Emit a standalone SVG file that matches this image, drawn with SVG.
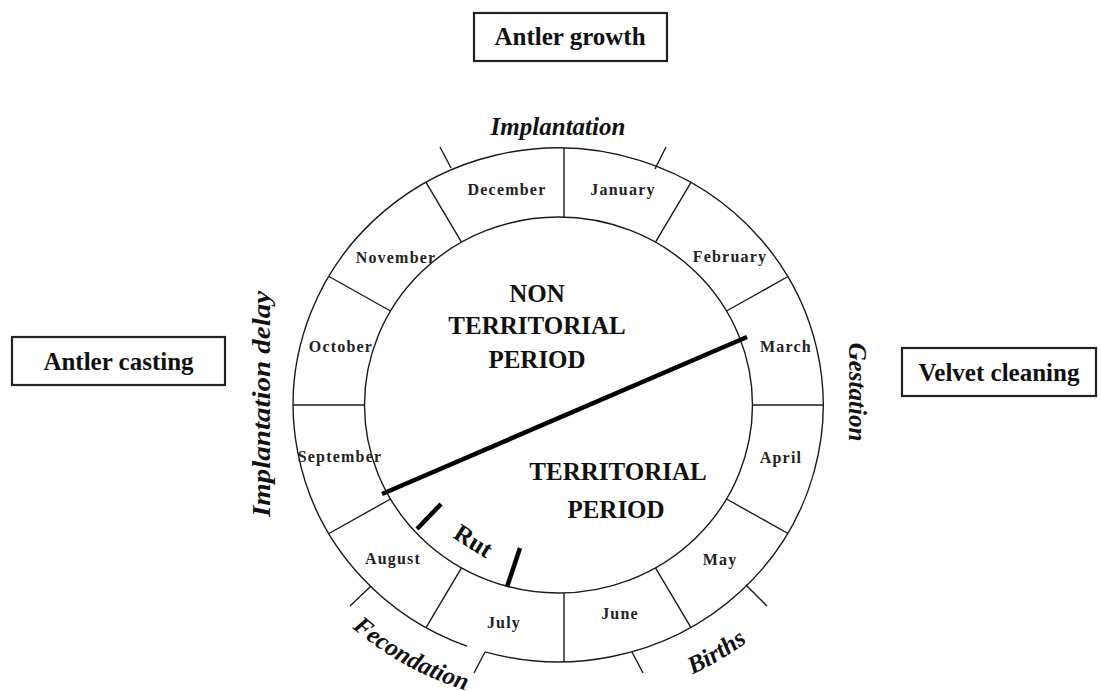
<svg xmlns="http://www.w3.org/2000/svg" width="1101" height="691" viewBox="0 0 1101 691">
<style>
.ln{stroke:#1a1a1a;stroke-width:1.4;fill:none}
.thick{stroke:#000;stroke-width:4.5;fill:none;stroke-linecap:butt}
.box{fill:#fff;stroke:#222;stroke-width:2.2}
.bx{font-family:"Liberation Serif","Times New Roman",serif;font-weight:bold;font-size:25px;fill:#111;text-anchor:middle}
.mo{font-family:"Liberation Serif","Times New Roman",serif;font-weight:bold;font-size:16px;letter-spacing:1.2px;fill:#222;text-anchor:middle}
.per{font-family:"Liberation Serif","Times New Roman",serif;font-weight:bold;font-size:25px;fill:#111;text-anchor:middle}
.it{font-family:"Liberation Serif","Times New Roman",serif;font-weight:bold;font-style:italic;font-size:25px;fill:#111;text-anchor:middle}
</style>
<defs>
<path id="pFec" d="M268.1,507.3 A309,299 0 0 0 612.2,699.5"/>
<path id="pBir" d="M515.5,701.1 A309,299 0 0 0 852.4,497.4"/>
</defs>
<rect width="1101" height="691" fill="#fff"/>

<g id="wheel">
<path class="ln" d="M467,646.2 A265,257 0 1 1 485,651.9"/>
<ellipse class="ln" cx="558.5" cy="405" rx="194" ry="188"/>
</g>

<g id="connectors">
<line class="ln" x1="564" y1="217" x2="564" y2="148"/>
<line class="ln" x1="655.5" y1="242.2" x2="691" y2="182.4"/>
<line class="ln" x1="726.5" y1="311" x2="788" y2="276.5"/>
<line class="ln" x1="752.5" y1="405" x2="823.5" y2="405"/>
<line class="ln" x1="726.5" y1="499" x2="788" y2="533.5"/>
<line class="ln" x1="655.5" y1="567.8" x2="691" y2="627.6"/>
<line class="ln" x1="564" y1="593" x2="564" y2="662"/>
<line class="ln" x1="461.5" y1="567.8" x2="426" y2="627.6"/>
<line class="ln" x1="390.5" y1="499" x2="329" y2="533.5"/>
<line class="ln" x1="364.5" y1="405" x2="293.5" y2="405"/>
<line class="ln" x1="390.5" y1="311" x2="329" y2="276.5"/>
<line class="ln" x1="461.5" y1="242.2" x2="426" y2="182.4"/>
<line class="ln" x1="451" y1="168" x2="440" y2="147"/>
<line class="ln" x1="655" y1="169" x2="666" y2="147"/>
<line class="ln" x1="371" y1="586" x2="350" y2="606"/>
<line class="ln" x1="485" y1="652" x2="474" y2="673"/>
<line class="ln" x1="632" y1="652" x2="643" y2="673"/>
<line class="ln" x1="746" y1="585" x2="767" y2="606"/>
<line class="thick" x1="382" y1="494" x2="747" y2="337"/>
<line class="thick" x1="417" y1="529" x2="441" y2="504"/>
<line class="thick" x1="507" y1="587" x2="520" y2="548"/>
</g>

<g id="months">
<text class="mo" x="507" y="195">December</text>
<text class="mo" x="623" y="195">January</text>
<text class="mo" x="730" y="262">February</text>
<text class="mo" x="786" y="352">March</text>
<text class="mo" x="781" y="463">April</text>
<text class="mo" x="720" y="565">May</text>
<text class="mo" x="620" y="619">June</text>
<text class="mo" x="504" y="628">July</text>
<text class="mo" x="393" y="564">August</text>
<text class="mo" x="340" y="462">September</text>
<text class="mo" x="341" y="352">October</text>
<text class="mo" x="396" y="263">November</text>
</g>

<g id="non-territorial">
<text class="per" x="537" y="302">NON</text>
<text class="per" x="537" y="334">TERRITORIAL</text>
<text class="per" x="537" y="368">PERIOD</text>
</g>
<g id="territorial">
<text class="per" x="618" y="480">TERRITORIAL</text>
<text class="per" x="616" y="518">PERIOD</text>
</g>
<g id="rut">
<text class="per" font-size="23" transform="translate(469,548) rotate(32)" x="0" y="0">Rut</text>
</g>

<g id="implantation"><text class="it" x="558" y="135">Implantation</text></g>
<g id="gestation"><text class="it" transform="translate(849,392) rotate(90)">Gestation</text></g>
<g id="implantation-delay"><text class="it" font-size="27" textLength="226" lengthAdjust="spacingAndGlyphs" transform="translate(270,404) rotate(-90)">Implantation delay</text></g>
<g id="fecondation"><text class="it"><textPath href="#pFec" startOffset="50%">Fecondation</textPath></text></g>
<g id="births"><text class="it"><textPath href="#pBir" startOffset="50%">Births</textPath></text></g>

<g id="antler-growth">
<rect class="box" x="474" y="13" width="193" height="48"/>
<text class="bx" x="570" y="45">Antler growth</text>
</g>
<g id="antler-casting">
<rect class="box" x="12" y="337" width="213" height="48"/>
<text class="bx" x="118.5" y="370">Antler casting</text>
</g>
<g id="velvet-cleaning">
<rect class="box" x="902" y="348" width="194" height="48"/>
<text class="bx" x="999" y="381">Velvet cleaning</text>
</g>
</svg>
